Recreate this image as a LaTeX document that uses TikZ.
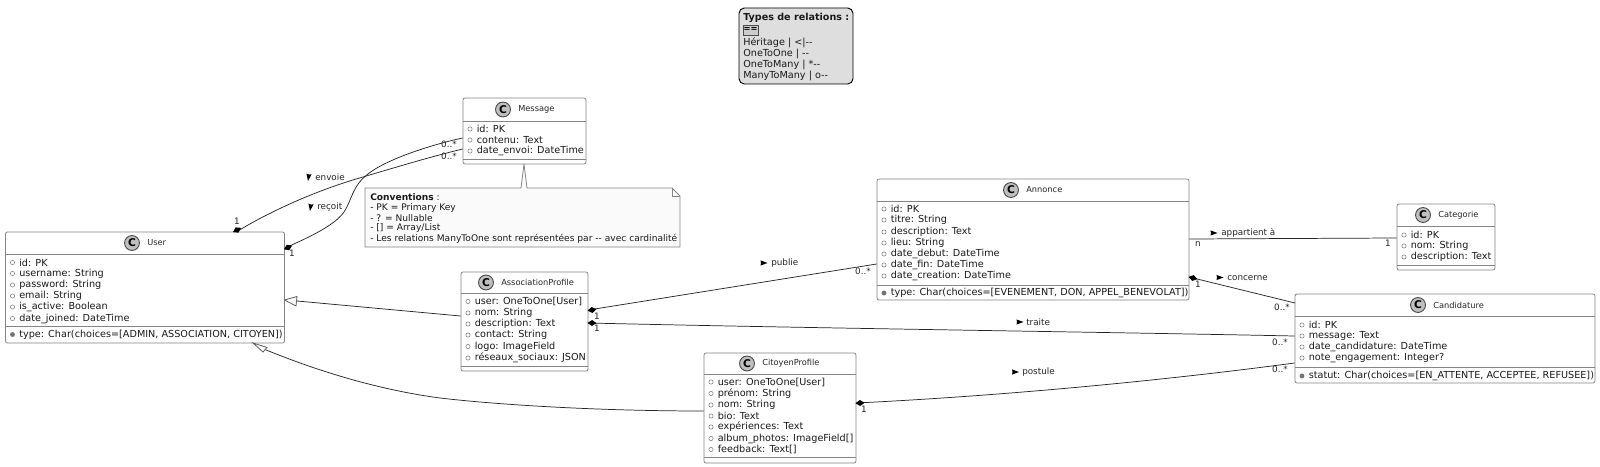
\documentclass[tikz,border=0pt]{standalone}
\usepackage{fontspec}
\setmainfont{DejaVu Sans}
\usetikzlibrary{calc}
\newcommand{\fsz}{\fontsize{7.25}{9}\selectfont}
\newcommand{\nsz}{\fontsize{6.82}{9}\selectfont}
\newcommand{\tsz}{\fontsize{6.2}{8}\selectfont}
\newcommand{\lsz}{\fontsize{6.6}{8}\selectfont}
\definecolor{boxline}{HTML}{858585}
\tikzset{x=0.75pt,y=-0.75pt,
  boxshape/.style={draw=boxline,line width=0.6pt,fill=white,rounded corners=1.5pt,rectangle,inner sep=0pt},
  sepline/.style={draw=boxline,line width=0.6pt},
  rel/.style={draw=black!85,line width=0.55pt},
  memb/.style={anchor=west,inner sep=0pt,font=\fsz,text=black!90},
  titl/.style={anchor=west,inner sep=0pt,font=\tsz,text=black!85},
  lbl/.style={inner sep=0pt,font=\lsz,text=black!85},
  cc/.style={draw=black!70,line width=0.7pt,fill=black!25,circle,minimum size=11.2pt,inner sep=0pt},
  dot/.style={circle,draw=black!55,line width=0.35pt,minimum size=3.2pt,inner sep=0pt},
  fdot/.style={circle,draw=black!55,fill=black!55,line width=0.35pt,minimum size=3.2pt,inner sep=0pt},
}
\newcommand{\umlbox}[9]{%
  \node[boxshape] (#1) at ({(#2+#4)/2},{(#3+#5)/2}) [minimum width={(#4-#2)*0.75pt},minimum height={(#5-#3)*0.75pt}] {};
  \draw[sepline] (#2,#6) -- (#4,#6);
  \draw[sepline] (#2,#7) -- (#4,#7);
  \node[cc] (#1c) at (#8,{(#3+#6)/2}) {\fontsize{8}{8}\selectfont\bfseries C};
  \node[titl] (#1t) at (#8+15,{(#3+#6)/2}) {#9};
}
\newcommand{\mem}[4]{\node[dot] (m#1a) at (#2+7,#3) {}; \node[memb] (m#1) at (#2+13.5,#3) {#4};}
\newcommand{\met}[4]{\node[fdot] (m#1a) at (#2+7,#3) {}; \node[memb] (m#1) at (#2+13.5,#3) {#4};}
\newcommand{\dia}[3]{\fill[black,shift={(#1,#2)},rotate=#3] (-4.5,0) -- (0,-3) -- (4.5,0) -- (0,3) -- cycle;}
\newcommand{\tri}[3]{\fill[black,shift={(#1,#2)},rotate=#3] (-3.5,-2.6) -- (3.5,0) -- (-3.5,2.6) -- (-3,0) -- cycle;}
\begin{document}
\begin{tikzpicture}
\useasboundingbox (0,0) rectangle (1600,467);
\fill[white] (0,0) rectangle (1600,467);

% legend
\node[draw=black,line width=0.7pt,fill=black!13,rounded corners=4pt,minimum width=85.5pt,minimum height=57pt,inner sep=0pt] (legend) at (796,46) {};
\node[memb,font=\fontsize{7.2}{9}\selectfont\bfseries] (lg1) at (743,18) {Types de relations :};
\node[draw=black!70,fill=black!20,line width=0.5pt,minimum width=11.5pt,minimum height=7.5pt,inner sep=0pt,font=\tsz\bfseries] (lg2) at (750.5,30) {==};
\node[memb] (lg3) at (743,43) {Héritage | <|{-}{-}};
\node[memb] (lg4) at (743,54) {OneToOne | {-}{-}};
\node[memb] (lg5) at (743,65) {OneToMany | *{-}{-}};
\node[memb] (lg6) at (743,76) {ManyToMany | o{-}{-}};

% note
\draw[boxline,line width=0.6pt,fill=black!2] (365,188) -- (521,188) -- (524,164) -- (527,188) -- (672,188) -- (680,196) -- (680,247) -- (365,247) -- cycle;
\draw[boxline,line width=0.6pt] (672,188) -- (672,196) -- (680,196);
\node[memb,font=\nsz] (nt1) at (370,197) {\textbf{Conventions} :};
\node[memb,font=\nsz] (nt2) at (370,207.5) {- PK = Primary Key};
\node[memb,font=\nsz] (nt3) at (370,218) {- ? = Nullable};
\node[memb,font=\nsz] (nt4) at (370,228) {- [] = Array/List};
\node[memb,font=\nsz] (nt5) at (370,239) {- Les relations ManyToOne sont représentées par {-}{-} avec cardinalité};

% classes
\umlbox{user}{5.5}{232}{284.5}{343}{254}{326}{132}{User}
\mem{u1}{5.5}{262.5}{id: PK}\mem{u2}{5.5}{273.5}{username: String}\mem{u3}{5.5}{285}{password: String}\mem{u4}{5.5}{296}{email: String}\mem{u5}{5.5}{307}{is\_active: Boolean}\mem{u6}{5.5}{318.5}{date\_joined: DateTime}\met{u7}{5.5}{334.5}{type: Char(choices=[ADMIN, ASSOCIATION, CITOYEN])}

\umlbox{msg}{463}{98}{586}{164}{121}{159}{503}{Message}
\mem{g1}{463}{129}{id: PK}\mem{g2}{463}{140}{contenu: Text}\mem{g3}{463}{151}{date\_envoi: DateTime}

\umlbox{asso}{461}{272}{588}{371}{293}{366}{486}{AssociationProfile}
\mem{a1}{461}{301.5}{user: OneToOne[User]}\mem{a2}{461}{313}{nom: String}\mem{a3}{461}{324}{description: Text}\mem{a4}{461}{335}{contact: String}\mem{a5}{461}{346.5}{logo: ImageField}\mem{a6}{461}{358}{réseaux\_sociaux: JSON}

\umlbox{cit}{704}{353}{856}{463}{374}{457}{747}{CitoyenProfile}
\mem{c1}{704}{382}{user: OneToOne[User]}\mem{c2}{704}{393.5}{prénom: String}\mem{c3}{704}{405}{nom: String}\mem{c4}{704}{416}{bio: Text}\mem{c5}{704}{427}{expériences: Text}\mem{c6}{704}{438.5}{album\_photos: ImageField[]}\mem{c7}{704}{449.5}{feedback: Text[]}

\umlbox{ann}{877}{179}{1189}{300}{201}{285}{1011}{Annonce}
\mem{n1}{877}{209}{id: PK}\mem{n2}{877}{220}{titre: String}\mem{n3}{877}{232}{description: Text}\mem{n4}{877}{243}{lieu: String}\mem{n5}{877}{254}{date\_debut: DateTime}\mem{n6}{877}{265}{date\_fin: DateTime}\mem{n7}{877}{276}{date\_creation: DateTime}\met{n8}{877}{293}{type: Char(choices=[EVENEMENT, DON, APPEL\_BENEVOLAT])}

\umlbox{cat}{1397}{204}{1495}{270}{226}{265}{1423}{Categorie}
\mem{k1}{1397}{235}{id: PK}\mem{k2}{1397}{246}{nom: String}\mem{k3}{1397}{257}{description: Text}

\umlbox{cand}{1295}{294}{1595}{383}{316}{367}{1418}{Candidature}
\mem{d1}{1295}{325}{id: PK}\mem{d2}{1295}{336}{message: Text}\mem{d3}{1295}{347}{date\_candidature: DateTime}\mem{d4}{1295}{358}{note\_engagement: Integer?}\met{d5}{1295}{376}{statut: Char(choices=[EN\_ATTENTE, ACCEPTEE, REFUSEE])}

% connector ends
\coordinate (envS) at (237,232);
\coordinate (envE) at (463,149);
\coordinate (recS) at (284.5,248);
\coordinate (recE) at (463,138);
% connectors
\draw[rel] (user.north -| envS) .. controls (262,216) and (310,192) .. (363,177) .. controls (400,166) and (430,157) .. (msg.west |- envE);
\dia{237}{230}{28}
\draw[rel] (user.east |- recS) .. controls (310,237) and (335,225) .. (344,212) .. controls (352,200) and (352,186) .. (368,174) .. controls (385,160) and (430,145) .. (msg.west |- recE);
\dia{288}{247.5}{24}

\coordinate (ih1) at (284.5,300);
\coordinate (ih2) at (0,316);
\draw[rel] (asso.west |- ih2) -- (297,301);
\draw[boxline!70!black,line width=0.6pt,fill=white] (ih1) -- (297,296.5) -- (296,306) -- cycle;

\coordinate (ih3) at (0,411);
\draw[rel] (cit.west |- ih3) .. controls (600,411) and (500,405) .. (440,398) .. controls (380,390) and (320,372) .. (265,349.5);
\draw[boxline!70!black,line width=0.6pt,fill=white] (253,343) -- (267,347.5) -- (263,352) -- cycle;

\coordinate (pu1) at (0,310);
\coordinate (pu2) at (0,264);
\draw[rel] (asso.east |- pu1) -- (ann.west |- pu2);
\dia{592}{310}{9}
\coordinate (tr1) at (0,323);
\coordinate (tr2) at (0,336);
\draw[rel] (asso.east |- tr1) .. controls (800,328) and (1100,332) .. (cand.west |- tr2);
\dia{592}{323}{-1}
\coordinate (po1) at (0,403);
\coordinate (po2) at (0,363);
\draw[rel] (cit.east |- po1) .. controls (1000,396) and (1160,381) .. (cand.west |- po2);
\dia{860}{403}{3}
\coordinate (co1) at (1189,277);
\coordinate (co2) at (1295,303);
\draw[rel] (co1) -- (co2);
\dia{1193}{278}{-14}
\coordinate (ap1) at (0,239);
\coordinate (ap2) at (0,238);
\draw[rel] (ann.east |- ap1) -- (cat.west |- ap2);

% connector labels
\node[lbl] (l1) at (237,221) {1};
\node[lbl] (l2) at (292,253) {1};
\node[lbl] (l3) at (449,144) {0..*};
\node[lbl] (l4) at (449,156) {0..*};
\node[lbl,anchor=west] (l5) at (315,177) {envoie};
\node[lbl,anchor=west] (l6) at (317,207) {reçoit};
\tri{308.5}{177.5}{-98}
\tri{310.5}{207.5}{-98}
\node[lbl] (l7) at (597,316) {1};
\node[lbl] (l8) at (597,328) {1};
\node[lbl] (l9) at (863,271) {0..*};
\node[lbl] (l10) at (1280,342) {0..*};
\node[lbl] (l11) at (864,409) {1};
\node[lbl] (l12) at (1280,369) {0..*};
\node[lbl] (l13) at (1198,284) {1};
\node[lbl] (l14) at (1282,307) {0..*};
\node[lbl] (l15) at (1198,244) {n};
\node[lbl] (l16) at (1388,243) {1};
\node[lbl,anchor=west] (l17) at (1221,233) {appartient à};
\tri{1214}{233}{0}
\node[lbl,anchor=west] (l18) at (1227,278) {concerne};
\tri{1220}{277.5}{0}
\node[lbl,anchor=west] (l19) at (771,263) {publie};
\tri{764}{263}{0}
\node[lbl,anchor=west] (l20) at (1026,322) {traite};
\tri{1020}{322}{0}
\node[lbl,anchor=west] (l21) at (1022,372) {postule};
\tri{1015.5}{372}{0}
\end{tikzpicture}
\end{document}
